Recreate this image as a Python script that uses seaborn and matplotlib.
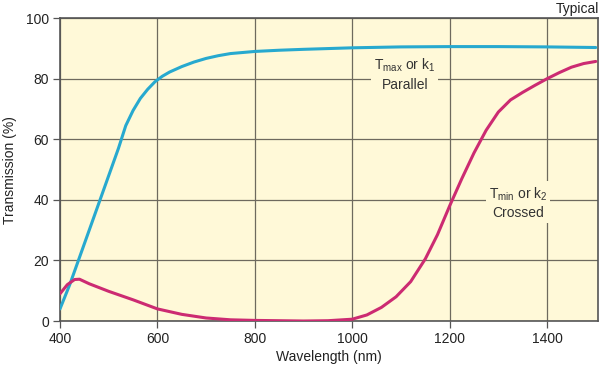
import matplotlib
matplotlib.use("Agg")
import matplotlib.pyplot as plt
import seaborn as sns
import pandas as pd

wl_max = [400, 420, 440, 460, 480, 500, 520, 535, 550, 565, 580, 595, 610, 625, 650, 675, 700, 725, 750, 800, 850, 900, 1000, 1100, 1200, 1300, 1400, 1500]
t_max = [4, 12, 21, 30, 39, 48, 57, 64.5, 69.5, 73.5, 76.5, 79, 80.8, 82.2, 84, 85.5, 86.7, 87.6, 88.3, 89, 89.4, 89.7, 90.2, 90.5, 90.6, 90.6, 90.5, 90.3]

wl_min = [400, 415, 430, 440, 460, 500, 550, 600, 650, 700, 750, 800, 850, 900, 950, 1000, 1030, 1060, 1090, 1120, 1150, 1175, 1200, 1225, 1250, 1275, 1300, 1325, 1350, 1375, 1400, 1425, 1450, 1475, 1500]
t_min = [9, 12, 13.7, 13.8, 12.3, 9.8, 7, 4, 2.2, 1, 0.4, 0.2, 0.1, 0, 0.1, 0.6, 2, 4.5, 8, 13, 20.5, 28.5, 38, 47, 55.5, 63, 69, 73, 75.5, 77.8, 80, 82, 83.8, 85, 85.7]

sns.set_theme(style="ticks")
plt.rcParams['font.family'] = ['Liberation Sans', 'DejaVu Sans']
plt.rcParams['mathtext.fontset'] = 'custom'
plt.rcParams['mathtext.rm'] = 'Liberation Sans'
plt.rcParams['mathtext.it'] = 'Liberation Sans'

fig = plt.figure(figsize=(6, 3.7), dpi=100)
ax = fig.add_axes([0.1, 0.1324, 0.897, 0.8186])
bg = "#FFF9D8"
ax.set_facecolor(bg)

df_max = pd.DataFrame({"wl": wl_max, "t": t_max})
df_min = pd.DataFrame({"wl": wl_min, "t": t_min})
sns.lineplot(data=df_max, x="wl", y="t", ax=ax, color="#27A9CF", lw=2.2, zorder=3)
sns.lineplot(data=df_min, x="wl", y="t", ax=ax, color="#CC2B72", lw=2.2, zorder=3)

ax.set_xlim(400, 1505)
ax.set_ylim(0, 100)
ax.set_xticks([400, 600, 800, 1000, 1200, 1400])
ax.set_yticks([0, 20, 40, 60, 80, 100])
ax.grid(True, color="#6E6A5E", lw=0.9)
ax.set_axisbelow(True)
for s in ax.spines.values():
    s.set_color("#555555")
    s.set_linewidth(1.2)
ax.tick_params(direction="out", length=5, width=0.9, color="#555555", labelsize=10, labelcolor="#222222", pad=3)
ax.set_xlabel("Wavelength (nm)", fontsize=10, color="#222222", labelpad=3)
ax.set_ylabel("Transmission (%)", fontsize=10, color="#222222", labelpad=6)

ax.text(1108, 81.5, r"T$_{\rm max}$ or k$_1$" + "\nParallel", ha="center", va="center",
        fontsize=10, color="#333333", linespacing=1.3,
        bbox=dict(facecolor=bg, edgecolor="none", pad=2), zorder=4)
ax.text(1340, 39, r"T$_{\rm min}$ or k$_2$" + "\nCrossed", ha="center", va="center",
        fontsize=10, color="#333333", linespacing=1.3,
        bbox=dict(facecolor=bg, edgecolor="none", pad=2), zorder=4)
fig.text(0.998, 0.995, "Typical", ha="right", va="top", fontsize=10, color="#222222")

fig.savefig("out.png", dpi=100, facecolor="white")
